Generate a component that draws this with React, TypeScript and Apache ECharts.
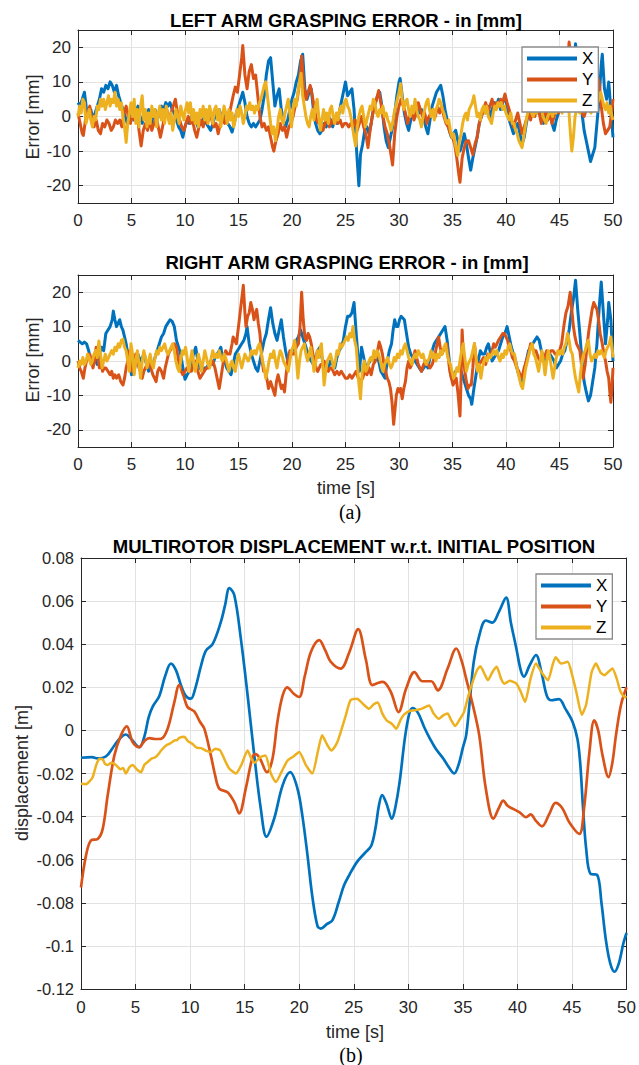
import React, { useEffect, useRef } from "react";
import * as echarts from "echarts";

const FONT = "'Liberation Sans', Arial, Helvetica, sans-serif";
const SERIF = "'Liberation Serif', 'Times New Roman', serif";
const C_X = "#0072BD";
const C_Y = "#D95319";
const C_Z = "#EDB120";

const seriesNames = ["X", "Y", "Z"];
const xTicks = { min: 0, max: 50, interval: 5 };

// LEFT ARM grasping error [mm]
const leftX: number[][] = [[0,4],[0.2,3],[0.4,5],[0.6,7],[0.8,2],[1.0,0],[1.2,2],[1.4,-1],[1.6,1],[1.8,3],[2.0,5],[2.2,8],[2.4,7],[2.6,9],[2.8,8],[3.0,10],[3.2,9],[3.4,7],[3.6,9],[3.8,6],[4.0,4],[4.2,2],[4.4,0],[4.6,-2],[4.8,0],[5.0,2],[5.2,-1],[5.4,1],[5.6,3],[5.8,0],[6.0,-2],[6.2,1],[6.4,-1],[6.6,2],[6.8,-3],[7.0,0],[7.2,2],[7.4,-1],[7.6,1],[7.8,3],[8.0,2],[8.2,4],[8.4,3],[8.6,4],[8.8,2],[9.0,1],[9.2,-1],[9.4,-3],[9.6,-4],[9.8,-6],[10.0,-3],[10.2,-1],[10.4,-2],[10.6,0],[10.8,-2],[11.0,-1],[11.2,-3],[11.4,-1],[11.6,-2],[11.8,0],[12.0,-2],[12.2,-3],[12.4,-4],[12.6,-2],[12.8,0],[13.0,1],[13.2,2],[13.4,0],[13.6,1],[13.8,-1],[14.0,-2],[14.2,-3],[14.4,-4.5],[14.6,-2],[14.8,1],[15.0,3],[15.2,5],[15.4,7],[15.6,4],[15.8,0],[16.0,-2],[16.2,-3],[16.4,-2],[16.6,-3],[16.8,-2],[17.0,-1],[17.2,2],[17.4,6],[17.6,12],[17.8,16],[18.0,17],[18.2,10],[18.4,3],[18.6,6],[18.8,8],[19.0,2],[19.2,-1],[19.4,-3],[19.6,-1],[19.8,2],[20.0,5],[20.2,7],[20.4,10],[20.6,12],[20.8,16],[21.0,18],[21.2,8],[21.4,5],[21.6,7],[21.8,8],[22.0,2],[22.2,-2],[22.4,-4],[22.6,-5],[22.8,-4],[23.0,-2],[23.2,-3],[23.4,0],[23.6,-1],[23.8,-3],[24.0,-1],[24.2,-2],[24.4,1],[24.6,4],[24.8,7],[25.0,10],[25.2,6],[25.4,7],[25.6,8],[25.8,2],[26.0,-8],[26.1,-13],[26.25,-20],[26.4,-11],[26.6,-8],[26.8,-4],[27.0,-3],[27.2,-5],[27.4,-2],[27.6,2],[27.8,4],[28.0,6],[28.2,7],[28.4,3],[28.6,-3],[28.8,-7],[29.0,-9],[29.2,-6],[29.4,-3],[29.6,1],[29.8,6],[30.0,10],[30.1,11],[30.3,6],[30.5,1],[30.7,-2],[30.9,-4],[31.1,-1],[31.3,2],[31.5,0],[31.7,3],[31.9,1],[32.1,2],[32.3,0],[32.5,-3],[32.7,-5],[32.9,-1],[33.1,3],[33.3,5],[33.5,7],[33.7,8],[33.9,9],[34.1,6],[34.3,2],[34.5,-1],[34.7,-4],[34.9,-6],[35.1,-5],[35.3,-4],[35.5,-7],[35.7,-10],[35.9,-8],[36.1,-5],[36.3,-8],[36.5,-12],[36.7,-15.5],[36.9,-12],[37.1,-9],[37.3,-6],[37.5,-2],[37.7,0],[37.9,2],[38.1,1],[38.3,3],[38.5,0],[38.7,2],[38.9,4],[39.1,3],[39.3,5],[39.5,2],[39.7,4],[39.9,6],[40.1,3],[40.3,-1],[40.5,-3],[40.7,-5],[40.9,-3],[41.1,-2],[41.3,-5],[41.5,-8],[41.7,-6],[41.9,-2],[42.1,1],[42.3,3],[42.5,0],[42.7,2],[42.9,1],[43.1,3],[43.3,0],[43.5,-2],[43.7,1],[43.9,-1],[44.1,2],[44.3,-2],[44.5,-4],[44.7,-1],[44.9,1],[45.1,2],[45.3,4],[45.5,3],[45.7,5],[45.9,4],[46.1,8],[46.3,15],[46.5,21],[46.7,12],[46.9,5],[47.1,1],[47.3,-4],[47.5,-7],[47.7,-10],[47.9,-13],[48.1,-11],[48.3,-9],[48.5,-2],[48.7,5],[48.9,15],[49.0,18],[49.2,8],[49.4,5],[49.6,10],[49.8,2],[50.0,-6]];
const leftY: number[][] = [[0,1],[0.2,-2],[0.4,-5],[0.5,-5.5],[0.7,-1],[0.9,1],[1.1,3],[1.3,-1],[1.5,-3],[1.7,-1],[1.9,-4],[2.1,-5],[2.3,-2],[2.5,-3],[2.7,-1],[2.9,-2],[3.1,-4],[3.3,-3],[3.5,-1],[3.7,-2],[3.9,-1],[4.1,-3],[4.3,1],[4.5,3],[4.7,0],[4.9,-2],[5.1,1],[5.3,-1],[5.5,2],[5.7,-4],[5.9,-8.5],[6.1,-4],[6.3,-2],[6.5,-4],[6.7,-1],[6.9,-4],[7.1,-2],[7.3,0],[7.5,-3],[7.7,-6],[7.9,-3],[8.1,0],[8.3,2],[8.5,-1],[8.7,1],[8.9,3],[9.1,5],[9.3,1],[9.5,-1],[9.7,-3],[9.9,-4],[10.1,-2],[10.3,0],[10.5,-2],[10.7,-1],[10.9,-4],[11.1,-6],[11.3,-3],[11.5,-1],[11.7,-3],[11.9,0],[12.1,-2],[12.3,1],[12.5,-1],[12.7,-3],[12.9,-2],[13.1,-5],[13.3,-2],[13.5,0],[13.7,-2],[13.9,1],[14.1,0],[14.3,3],[14.5,6],[14.7,8.5],[14.9,7],[15.1,12],[15.3,17],[15.4,20.5],[15.6,12],[15.8,8],[16.0,13],[16.2,15],[16.4,11],[16.6,12],[16.8,6],[17.0,0],[17.2,-3],[17.4,-2],[17.6,-4],[17.8,-3],[18.0,-6],[18.2,-9],[18.3,-10],[18.5,-7],[18.7,-5],[18.9,-2],[19.1,-4],[19.3,-3],[19.5,-6],[19.7,-3],[19.9,-2],[20.1,0],[20.3,3],[20.5,5],[20.7,10],[20.9,17.5],[21.1,9],[21.3,5],[21.5,7],[21.7,9],[21.9,6],[22.1,2],[22.3,-1],[22.5,-2],[22.7,-1],[22.9,-4],[23.1,-2],[23.3,0],[23.5,-3],[23.7,-1],[23.9,-2],[24.1,0],[24.3,-2],[24.5,-1],[24.7,-3],[24.9,-2],[25.1,-2],[25.3,-3],[25.5,-2],[25.7,-3],[25.9,-1],[26.1,-4],[26.3,-2],[26.5,0],[26.7,-3],[26.9,-5],[27.1,-9],[27.3,-4],[27.5,0],[27.7,3],[27.9,5],[28.1,7.5],[28.3,4],[28.5,0],[28.7,-3],[28.9,-5],[29.1,-8],[29.3,-12],[29.4,-14],[29.6,-5],[29.8,0],[30.0,3],[30.2,5],[30.4,3],[30.6,1],[30.8,-2],[31.0,0],[31.2,2],[31.4,-1],[31.6,1],[31.8,4],[32.0,2],[32.2,0],[32.4,1],[32.6,-2],[32.8,0],[33.0,1],[33.2,2],[33.4,0],[33.6,3],[33.8,1],[34.0,3],[34.2,0],[34.4,-2],[34.6,-3],[34.8,-5],[35.0,-6],[35.2,-8],[35.4,-12],[35.6,-17],[35.7,-19],[35.9,-12],[36.1,-9],[36.3,-7],[36.5,-7],[36.7,-9],[36.9,-11],[37.1,-8],[37.3,-6],[37.5,-2],[37.7,0],[37.9,2],[38.1,4],[38.3,1],[38.5,3],[38.7,5],[38.9,2],[39.1,4],[39.3,3],[39.5,5],[39.7,4],[39.9,6.5],[40.1,4],[40.3,2],[40.5,-1],[40.7,-3],[40.9,-1],[41.1,1],[41.3,-2],[41.5,-5],[41.7,-3],[41.9,-1],[42.1,1],[42.3,-1],[42.5,2],[42.7,0],[42.9,3],[43.1,1],[43.3,-2],[43.5,0],[43.7,2],[43.9,-1],[44.1,1],[44.3,-2],[44.5,0],[44.7,2],[44.9,1],[45.1,3],[45.3,5],[45.5,8],[45.7,14],[45.9,21.5],[46.1,16],[46.3,10],[46.5,7],[46.7,5],[46.9,3],[47.1,1],[47.3,0],[47.5,2],[47.7,3],[47.9,6],[48.1,11],[48.3,15],[48.5,12],[48.7,10],[48.9,3],[49.1,-2],[49.3,-5],[49.5,-4],[49.7,-3],[49.9,2],[50.0,5]];
const leftZ: number[][] = [[0,0],[0.15,3],[0.3,1],[0.45,5],[0.6,4],[0.75,-2],[0.9,0],[1.05,2],[1.2,-1],[1.35,-3],[1.5,0],[1.65,-1],[1.8,3],[1.95,2],[2.1,5],[2.25,3],[2.4,5],[2.55,2],[2.7,4],[2.85,6],[3.0,3],[3.15,5],[3.3,4],[3.45,7],[3.6,3],[3.75,5],[3.9,2],[4.05,4],[4.2,0],[4.35,-3],[4.5,-7.5],[4.65,-2],[4.8,1],[4.95,4],[5.1,0],[5.25,5],[5.4,-2],[5.55,2],[5.7,-3],[5.85,3],[6.0,6],[6.15,-1],[6.3,2],[6.45,-3],[6.6,1],[6.75,-2],[6.9,3],[7.05,0],[7.2,2],[7.35,-3],[7.5,1],[7.65,3],[7.8,-1],[7.95,2],[8.1,-2],[8.25,3],[8.4,0],[8.55,-2],[8.7,1],[8.85,-4],[9.0,-1],[9.15,2],[9.3,0],[9.45,-2],[9.6,3],[9.75,1],[9.9,-1],[10.05,2],[10.2,4],[10.35,1],[10.5,4],[10.65,-1],[10.8,2],[10.95,-2],[11.1,1],[11.25,-3],[11.4,2],[11.55,0],[11.7,3],[11.85,-1],[12.0,2],[12.15,-2],[12.3,3],[12.45,1],[12.6,-2],[12.75,2],[12.9,3],[13.05,-1],[13.2,2],[13.35,-3],[13.5,0],[13.65,3],[13.8,1],[13.95,-2],[14.1,2],[14.25,-1],[14.4,1],[14.55,-3],[14.7,-1],[14.85,2],[15.0,0],[15.15,3],[15.3,1],[15.45,-2],[15.6,0],[15.75,3],[15.9,2],[16.05,4],[16.2,2],[16.35,3],[16.5,1],[16.65,3],[16.8,2],[16.95,4],[17.1,5],[17.25,7],[17.4,9],[17.55,10],[17.7,6],[17.85,2],[18.0,-2],[18.15,-5],[18.3,-3],[18.45,-7],[18.6,-4],[18.75,0],[18.9,2],[19.05,-1],[19.2,-2],[19.35,1],[19.5,3],[19.65,5],[19.8,1],[19.95,-3],[20.1,2],[20.25,5],[20.4,3],[20.55,7],[20.7,10],[20.85,12.5],[21.0,6],[21.15,3],[21.3,0],[21.45,-2],[21.6,-3],[21.75,0],[21.9,2],[22.05,-1],[22.2,3],[22.35,5],[22.5,0],[22.65,-4],[22.8,-1],[22.95,2],[23.1,-1],[23.25,1],[23.4,-2],[23.55,2],[23.7,3],[23.85,0],[24.0,-2],[24.15,1],[24.3,-1],[24.45,2],[24.6,3],[24.75,1],[24.9,4],[25.05,5],[25.2,3],[25.35,2],[25.5,0],[25.65,-3],[25.8,-6],[25.95,-8.5],[26.1,-3],[26.25,0],[26.4,2],[26.55,3],[26.7,0],[26.85,-3],[27.0,-1],[27.15,1],[27.3,3],[27.45,2],[27.6,5],[27.75,4],[27.9,1],[28.05,0],[28.2,2],[28.35,1],[28.5,3],[28.65,0],[28.8,1],[28.95,-1],[29.1,-2],[29.25,-4],[29.4,-2],[29.55,1],[29.7,3],[29.85,5],[30.0,7],[30.15,9.5],[30.3,5],[30.45,2],[30.6,4],[30.75,5],[30.9,2],[31.05,0],[31.2,3],[31.35,1],[31.5,5],[31.65,2],[31.8,0],[31.95,-1],[32.1,-3],[32.25,0],[32.4,2],[32.55,4],[32.7,5],[32.85,2],[33.0,0],[33.15,2],[33.3,-1],[33.45,2],[33.6,3],[33.75,5],[33.9,4],[34.05,2],[34.2,1],[34.35,-1],[34.5,-2],[34.65,-1],[34.8,-4],[34.95,-6],[35.1,-5],[35.25,-8],[35.4,-10],[35.5,-11.3],[35.65,-7],[35.8,-5],[35.95,-2],[36.1,0],[36.25,1],[36.4,-1],[36.55,2],[36.7,3],[36.85,4],[37.0,6],[37.15,3],[37.3,0],[37.45,1],[37.6,-1],[37.75,2],[37.9,3],[38.05,1],[38.2,3],[38.35,0],[38.5,-1],[38.65,-2],[38.8,1],[38.95,3],[39.1,2],[39.25,4],[39.4,3],[39.55,4],[39.7,2],[39.85,3],[40.0,1],[40.15,0],[40.3,-1],[40.45,1],[40.6,-2],[40.75,-2],[40.9,-4],[41.05,-5],[41.2,-7],[41.35,-8],[41.5,-9],[41.65,-6],[41.8,-3],[41.95,0],[42.1,2],[42.25,3],[42.4,1],[42.55,0],[42.7,2],[42.85,1],[43.0,3],[43.15,2],[43.3,3],[43.45,0],[43.6,-1],[43.75,-2],[43.9,0],[44.05,1],[44.2,2],[44.35,0],[44.5,2],[44.65,1],[44.8,3],[44.95,2],[45.1,3],[45.25,1],[45.4,3],[45.55,4],[45.7,5],[45.85,3],[46.0,-4],[46.15,-10],[46.3,-6],[46.45,0],[46.6,2],[46.75,3],[46.9,1],[47.05,3],[47.2,5],[47.35,4],[47.5,5],[47.65,3],[47.8,2],[47.95,1],[48.1,3],[48.25,2],[48.4,3],[48.55,4],[48.7,5],[48.85,7],[49.0,5],[49.15,3],[49.3,2],[49.45,4],[49.6,1],[49.75,3],[49.9,0],[50.0,-1]];

// RIGHT ARM grasping error [mm]
const rightX: number[][] = [[0,6],[0.2,5.5],[0.4,5],[0.6,5.5],[0.8,5],[1.0,3],[1.2,0],[1.4,-1],[1.6,1],[1.8,-1],[2.0,2],[2.2,4],[2.4,3],[2.6,8],[2.8,9],[3.0,10],[3.2,12],[3.3,14.5],[3.45,12],[3.6,10],[3.75,11],[3.9,12],[4.05,10],[4.2,9],[4.35,7],[4.5,5],[4.65,2],[4.8,0],[5.0,-4],[5.15,-3],[5.3,-2],[5.45,0],[5.6,2],[5.8,0],[6.0,1],[6.2,2],[6.4,-1],[6.6,-3],[6.8,-1],[7.0,-1],[7.2,1],[7.4,3],[7.6,5],[7.8,7],[8.0,8],[8.2,10],[8.4,11],[8.6,12],[8.8,11.5],[9.0,10],[9.2,6],[9.4,4],[9.6,2],[9.8,-2],[10.0,-5.3],[10.2,-4],[10.4,-3],[10.6,0],[10.8,2],[11.0,4],[11.2,0],[11.4,-2],[11.6,-3],[11.8,-2],[12.0,-2],[12.2,-1],[12.4,0],[12.6,-1],[12.8,1],[13.0,2],[13.2,3],[13.35,4],[13.5,1],[13.7,0],[13.9,-2],[14.1,-3],[14.3,-4],[14.5,-1],[14.7,2],[14.9,3],[15.1,4],[15.3,5],[15.5,6],[15.7,8],[15.8,10],[16.0,5],[16.2,2],[16.4,0],[16.6,-2],[16.8,-3],[17.0,0],[17.2,3],[17.4,6],[17.6,8],[17.8,12],[18.0,15.5],[18.2,11],[18.4,8],[18.6,6],[18.8,9],[19.0,12],[19.2,7],[19.4,3],[19.6,0],[19.8,1],[20.0,3],[20.2,4],[20.4,6],[20.6,7],[20.8,9],[21.0,7],[21.2,5],[21.4,3],[21.6,1],[21.8,0],[22.0,-1],[22.2,1],[22.4,3],[22.6,4],[22.8,1],[23.0,-2],[23.2,-3],[23.4,-2],[23.6,0],[23.8,-1],[24.0,-2],[24.2,1],[24.4,3],[24.6,4],[24.8,6],[25.0,10],[25.2,13],[25.4,13],[25.6,14],[25.8,17],[26.0,8],[26.15,2],[26.3,-3],[26.5,4],[26.7,1],[26.9,-2],[27.1,-1],[27.3,0],[27.5,1],[27.7,0],[27.9,2],[28.1,0],[28.3,-3],[28.5,-4],[28.7,-5],[28.9,0],[29.1,3],[29.3,5],[29.45,9],[29.6,12],[29.75,10],[29.9,10],[30.05,12],[30.2,13],[30.35,12.5],[30.5,12],[30.7,8],[30.9,4],[31.1,2],[31.3,1],[31.5,0],[31.7,-1],[31.9,-2],[32.1,-3],[32.3,-2],[32.5,-1],[32.7,-2],[32.9,1],[33.1,3],[33.3,5],[33.5,6],[33.7,7],[33.9,8],[34.1,9],[34.3,10],[34.5,6],[34.7,0],[34.9,-5],[35.1,-4],[35.3,-3],[35.5,-2],[35.7,-2],[35.9,-4],[36.1,-6],[36.3,-8],[36.5,-10],[36.7,-11],[36.8,-12.6],[37.0,-8],[37.2,-4],[37.4,0],[37.6,3],[37.8,2],[38.0,2],[38.2,4],[38.35,5],[38.5,3],[38.7,0],[38.9,1],[39.1,2],[39.3,3],[39.5,5],[39.7,7],[39.9,8],[40.1,10],[40.3,7],[40.5,4],[40.7,2],[40.9,0],[41.1,-3],[41.3,-5],[41.5,-7],[41.7,-3],[41.9,0],[42.1,3],[42.3,4],[42.5,5],[42.7,6],[42.9,7],[43.1,6],[43.3,3],[43.5,1],[43.7,0],[43.9,1],[44.1,2],[44.3,1],[44.5,0],[44.7,-2],[44.9,-1],[45.1,0],[45.3,2],[45.5,3],[45.7,6],[45.9,9],[46.1,14],[46.3,18],[46.5,23.5],[46.7,15],[46.9,8],[47.1,0],[47.3,-6],[47.5,-9],[47.7,-11.6],[47.9,-10],[48.1,-6],[48.3,-2],[48.5,5],[48.7,15],[48.9,23],[49.1,14],[49.3,5],[49.5,12],[49.6,17],[49.8,12],[50.0,0]];
const rightY: number[][] = [[0,0],[0.15,-2],[0.3,-3],[0.5,-5],[0.65,-2],[0.8,0],[1.0,1],[1.1,2],[1.25,0],[1.4,-2],[1.55,0],[1.7,4],[1.85,1],[2.0,-2],[2.15,-1],[2.3,-3],[2.45,-2],[2.6,-2],[2.8,-3],[3.0,-4],[3.15,-3],[3.3,-5],[3.45,-4],[3.6,-5],[3.8,-4],[4.0,-6],[4.2,-7],[4.35,-5],[4.5,-2],[4.65,0],[4.8,3],[4.95,-1],[5.1,-3],[5.25,0],[5.4,2],[5.55,0],[5.7,-2],[5.85,-3],[6.0,-5],[6.15,-3],[6.3,-2],[6.45,-1],[6.6,0],[6.8,-2],[7.0,-4],[7.15,-5],[7.3,-6],[7.45,-3],[7.6,-2],[7.8,-3],[8.0,-5],[8.15,-2],[8.3,0],[8.45,2],[8.6,3],[8.8,4],[9.0,5],[9.2,4],[9.35,1],[9.5,-2],[9.65,-3],[9.8,-4],[10.0,-3],[10.2,-2],[10.4,-3],[10.6,-3],[10.8,-1],[11.0,0],[11.2,-3],[11.4,-5],[11.6,-4],[11.8,-3],[12.0,-2],[12.2,-2],[12.4,-1],[12.6,0],[12.8,-2],[13.0,-5],[13.2,-8],[13.35,-5],[13.5,-2],[13.65,1],[13.8,3],[14.0,2],[14.2,2],[14.4,5],[14.5,7],[14.65,6],[14.8,5],[15.0,10],[15.15,14],[15.3,18],[15.45,22],[15.6,14],[15.7,10],[15.85,13],[16.0,14],[16.15,17],[16.3,15],[16.45,12],[16.6,14],[16.7,15],[16.85,11],[17.0,8],[17.2,0],[17.35,-3],[17.5,-3],[17.7,-6],[17.8,-8],[18.0,-6],[18.2,-8],[18.4,-10],[18.55,-6],[18.7,-4],[18.85,-6],[19.0,-8],[19.15,-7],[19.3,-9],[19.45,-4],[19.6,0],[19.8,3],[20.0,2],[20.2,2],[20.4,4],[20.6,5],[20.75,10],[20.9,20],[21.05,12],[21.2,7],[21.35,6],[21.5,8],[21.65,7],[21.8,5],[21.95,2],[22.1,0],[22.25,-2],[22.4,-3],[22.55,-2],[22.7,-1],[22.85,-1],[23.0,0],[23.2,-2],[23.4,-3],[23.55,-2],[23.7,-2],[23.85,-3],[24.0,-4],[24.2,-3],[24.4,-4],[24.6,-3],[24.8,-4],[25.0,-5],[25.2,-5],[25.4,-4],[25.6,-5],[25.8,-4],[26.0,-3],[26.2,-5],[26.4,-6],[26.6,-5],[26.8,-3],[27.0,-4],[27.2,-2],[27.4,-4],[27.6,-1],[27.8,0],[28.0,3],[28.15,5.5],[28.3,4],[28.45,2],[28.6,-1],[28.75,-3],[28.9,-5],[29.05,-6],[29.2,-8],[29.35,-12],[29.5,-18.4],[29.6,-15],[29.75,-10],[29.9,-8],[30.05,-9],[30.15,-8],[30.3,-11],[30.45,-8],[30.6,-6],[30.75,-2],[30.9,0],[31.05,-2],[31.2,-1],[31.35,1],[31.5,3],[31.65,1],[31.8,-1],[31.95,-2],[32.1,-3],[32.3,-1],[32.5,0],[32.7,-1],[32.9,-2],[33.1,-1],[33.3,1],[33.5,4],[33.7,7],[33.85,4],[34.0,2],[34.15,3],[34.3,4],[34.45,5],[34.6,1],[34.75,-3],[34.9,-5],[35.05,-7],[35.2,-6],[35.35,-5],[35.5,-9],[35.7,-16],[35.8,-5],[35.9,9],[36.0,3],[36.15,-3],[36.3,-6],[36.45,-8],[36.6,-7],[36.75,-7],[36.9,-2],[37.05,5],[37.2,1],[37.35,-2],[37.5,-1],[37.7,0],[37.9,1],[38.1,-1],[38.3,2],[38.5,1],[38.7,3],[38.85,5],[39.0,4],[39.15,5],[39.3,6],[39.5,7],[39.7,8],[39.85,8],[40.0,7],[40.15,6],[40.3,4],[40.45,3],[40.6,1],[40.8,0],[41.0,-2],[41.2,-3],[41.4,-5],[41.55,-4],[41.7,-2],[41.9,0],[42.1,2],[42.3,5],[42.45,4],[42.6,3],[42.8,3],[43.0,1],[43.2,0],[43.4,2],[43.6,1],[43.8,3],[44.0,2],[44.2,3],[44.4,3],[44.6,2],[44.8,2],[45.0,3],[45.2,5],[45.4,10],[45.6,14],[45.8,16],[46.0,20],[46.15,15],[46.3,10],[46.45,7],[46.6,5],[46.75,4],[46.9,3],[47.05,-1],[47.2,-5],[47.4,-1],[47.6,5],[47.75,9],[47.9,12],[48.05,15],[48.2,17],[48.35,16],[48.5,15],[48.65,12],[48.8,8],[49.0,5],[49.15,2],[49.3,0],[49.45,-3],[49.6,-5],[49.7,-9],[49.8,-12],[49.9,-8],[50.0,-2]];
const rightZ: number[][] = [[0,-2],[0.15,0],[0.3,-1],[0.45,1],[0.6,-1],[0.75,0],[0.9,2],[1.05,1],[1.2,-1],[1.35,0],[1.5,2],[1.65,3],[1.8,1],[1.95,5.8],[2.1,2],[2.25,-2],[2.4,0],[2.55,2],[2.7,0],[2.85,1],[3.0,2],[3.15,3],[3.3,2],[3.45,4],[3.6,3],[3.75,5],[3.9,4],[4.05,6],[4.2,6.3],[4.35,4],[4.5,3],[4.65,0],[4.8,-3],[4.95,5],[5.1,2],[5.25,-4],[5.4,0],[5.55,3],[5.7,-1],[5.85,-5],[6.0,0],[6.15,3],[6.3,1],[6.45,-2],[6.6,0],[6.75,2],[6.9,-1],[7.05,-2],[7.2,1],[7.35,3],[7.5,2],[7.65,4],[7.8,3],[7.95,4],[8.1,5],[8.25,3],[8.4,2],[8.55,3],[8.7,4],[8.85,5],[9.0,3],[9.15,0],[9.3,-2],[9.45,-3],[9.6,0],[9.75,3],[9.9,2],[10.05,4],[10.2,1],[10.35,-3],[10.5,0],[10.65,3],[10.8,0],[10.95,-3],[11.1,-1],[11.25,2],[11.4,0],[11.55,-3],[11.7,0],[11.85,3],[12.0,1],[12.15,-1],[12.3,-2],[12.45,1],[12.6,3],[12.75,1],[12.9,2],[13.05,1],[13.2,3],[13.35,1],[13.5,0],[13.65,2],[13.8,1],[13.95,-1],[14.1,-3],[14.25,-1],[14.4,0],[14.55,-2],[14.7,-3],[14.85,0],[15.0,2],[15.15,0],[15.3,-2],[15.45,0],[15.6,2],[15.75,1],[15.9,0],[16.05,1],[16.2,3],[16.35,2],[16.5,3],[16.65,2],[16.8,4],[16.95,5],[17.1,3],[17.25,0],[17.4,-2],[17.55,-5],[17.7,-3],[17.85,0],[18.0,2],[18.15,1],[18.3,3],[18.45,0],[18.6,-2],[18.75,1],[18.9,3],[19.05,2],[19.2,0],[19.35,-1],[19.5,-2],[19.65,-3],[19.8,0],[19.95,3],[20.1,4],[20.25,6],[20.4,1],[20.55,-5],[20.7,0],[20.85,3],[21.0,4],[21.15,5],[21.3,2],[21.45,0],[21.6,2],[21.75,4],[21.9,1],[22.05,-3],[22.2,-1],[22.35,3],[22.5,1],[22.65,4],[22.75,5],[22.9,-2],[23.0,-7],[23.15,-3],[23.3,0],[23.45,1],[23.6,2],[23.75,0],[23.9,-2],[24.05,0],[24.2,3],[24.35,2],[24.5,5],[24.65,4],[24.8,5],[24.95,6],[25.1,7],[25.25,6],[25.4,8],[25.55,7],[25.7,10],[25.85,6],[26.0,4],[26.1,0],[26.2,-5],[26.3,-8],[26.4,-11],[26.5,-6],[26.6,-2],[26.75,0],[26.9,-3],[27.05,-2],[27.2,0],[27.35,1],[27.5,0],[27.65,3],[27.8,1],[27.95,3],[28.1,2],[28.25,0],[28.4,-2],[28.5,-3],[28.65,-1],[28.8,0],[28.95,1],[29.1,-1],[29.25,-2],[29.4,-1],[29.55,1],[29.7,0],[29.85,2],[30.0,1],[30.15,3],[30.3,2],[30.45,4],[30.6,5],[30.75,3],[30.9,1],[31.05,0],[31.2,-1],[31.35,1],[31.5,2],[31.65,1],[31.8,3],[31.95,2],[32.1,1],[32.25,2],[32.4,0],[32.55,-1],[32.7,0],[32.85,1],[33.0,3],[33.15,1],[33.3,2],[33.45,0],[33.6,2],[33.75,1],[33.9,3],[34.05,2],[34.2,4],[34.35,5],[34.5,2],[34.65,0],[34.8,-1],[34.95,-3],[35.1,-5],[35.25,-4],[35.4,-2],[35.55,-3],[35.7,0],[35.85,3],[36.0,5],[36.15,1],[36.3,-3],[36.45,-1],[36.6,0],[36.75,1],[36.9,3],[37.05,5],[37.2,1],[37.35,-3],[37.5,-1],[37.65,-5],[37.8,-2],[37.95,0],[38.1,1],[38.25,0],[38.4,2],[38.55,1],[38.7,2],[38.85,3],[39.0,2],[39.15,3],[39.3,1],[39.45,0],[39.6,2],[39.75,1],[39.9,3],[40.05,2],[40.2,4],[40.35,5],[40.5,3],[40.65,2],[40.8,2],[40.95,-1],[41.1,-3],[41.25,-5],[41.4,-7],[41.55,-8],[41.7,-5],[41.85,-2],[42.0,0],[42.15,2],[42.3,4],[42.45,5],[42.6,2],[42.75,1],[42.9,-1],[43.05,-3],[43.2,0],[43.35,3],[43.5,0],[43.65,-4],[43.8,0],[43.95,3],[44.1,1],[44.25,-2],[44.4,-5],[44.55,-2],[44.7,1],[44.85,3],[45.0,2],[45.15,3],[45.3,2],[45.45,4],[45.6,5],[45.75,8],[45.9,6],[46.05,3],[46.2,2],[46.35,-2],[46.5,-5],[46.65,-7],[46.8,-9],[46.95,-4],[47.1,0],[47.25,2],[47.4,3],[47.55,5],[47.7,6],[47.85,2],[48.0,0],[48.15,1],[48.3,2],[48.45,1],[48.6,3],[48.75,2],[48.9,3],[49.05,2],[49.2,1],[49.35,3],[49.5,4],[49.65,5],[49.8,7],[49.9,4],[50.0,1]];

// MULTIROTOR displacement [m]
const dispX: number[][] = [[0,-0.0127],[1.0,-0.0124],[1.5,-0.013],[2.3,-0.012],[3.06,-0.007],[3.6,-0.0035],[4.1,-0.0019],[4.6,-0.004],[5.35,-0.0078],[5.8,-0.003],[6.2,0.006],[6.57,0.011],[7.18,0.016],[7.7,0.025],[8.24,0.031],[8.7,0.028],[9.16,0.021],[9.6,0.016],[10.07,0.0147],[10.5,0.02],[11.0,0.03],[11.45,0.037],[12.06,0.040],[12.8,0.050],[13.2,0.058],[13.6,0.066],[14.05,0.0628],[14.65,0.0426],[15.27,0.0163],[15.88,-0.0116],[16.48,-0.0364],[17.0,-0.0493],[17.7,-0.041],[18.47,-0.0256],[19.17,-0.0194],[19.84,-0.027],[20.3,-0.04],[20.76,-0.058],[21.2,-0.077],[21.67,-0.0907],[21.98,-0.092],[22.5,-0.09],[23.05,-0.088],[23.6,-0.08],[24.1,-0.072],[24.6,-0.067],[25.3,-0.061],[26.0,-0.057],[26.6,-0.0535],[27.0,-0.045],[27.3,-0.035],[27.6,-0.030],[28.0,-0.034],[28.5,-0.041],[28.8,-0.036],[29.2,-0.024],[29.7,-0.003],[30.1,0.008],[30.4,0.0104],[30.9,0.008],[31.5,0.001],[32.0,-0.004],[32.5,-0.0084],[33.2,-0.013],[33.7,-0.017],[34.2,-0.020],[34.6,-0.016],[35.0,-0.008],[35.3,-0.0023],[35.6,0.012],[36.0,0.032],[36.5,0.044],[37.1,0.051],[37.7,0.050],[38.3,0.055],[38.96,0.0616],[39.4,0.05],[39.9,0.038],[40.3,0.028],[40.6,0.025],[41.1,0.030],[41.7,0.035],[42.2,0.027],[42.7,0.016],[43.1,0.014],[43.8,0.0145],[44.4,0.01],[45.05,0.004],[45.5,-0.004],[45.75,-0.015],[46.0,-0.035],[46.3,-0.055],[46.7,-0.0666],[47.3,-0.067],[47.7,-0.08],[48.1,-0.097],[48.5,-0.108],[48.9,-0.112],[49.3,-0.108],[49.7,-0.099],[50,-0.094]];
const dispY: number[][] = [[0,-0.0729],[0.46,-0.058],[0.92,-0.051],[1.53,-0.0504],[1.99,-0.0457],[2.45,-0.030],[3.06,-0.0116],[3.66,-0.0023],[4.2,0.0019],[4.73,-0.0054],[5.35,-0.0078],[5.8,-0.005],[6.26,-0.0036],[6.8,-0.004],[7.33,-0.0039],[7.94,0.0008],[8.55,0.013],[9.0,0.021],[9.4,0.016],[9.77,0.0108],[10.38,0.0088],[10.9,0.004],[11.3,0.0008],[11.9,-0.0116],[12.3,-0.021],[12.67,-0.027],[13.43,-0.0287],[14.05,-0.0333],[14.5,-0.0385],[15.1,-0.027],[15.72,-0.0124],[16.0,-0.011],[16.4,-0.013],[17.04,-0.0194],[17.55,-0.0132],[18.0,0.0039],[18.47,0.016],[18.9,0.020],[19.5,0.017],[20.0,0.0155],[20.5,0.025],[21.07,0.0364],[21.83,0.0419],[22.4,0.037],[22.9,0.0318],[23.8,0.0287],[24.6,0.0364],[25.4,0.047],[26.1,0.033],[26.7,0.021],[27.2,0.022],[27.66,0.0225],[28.4,0.0178],[29.1,0.0085],[29.8,0.0194],[30.56,0.027],[31.3,0.0228],[32.1,0.0228],[32.7,0.0186],[33.6,0.0287],[34.4,0.038],[34.9,0.032],[35.3,0.024],[35.9,0.012],[36.5,-0.0023],[37.1,-0.027],[37.8,-0.041],[38.3,-0.036],[38.7,-0.0326],[39.1,-0.035],[39.6,-0.0364],[40.2,-0.038],[40.8,-0.0403],[41.2,-0.039],[41.7,-0.042],[42.25,-0.0445],[42.9,-0.039],[43.5,-0.0336],[44.1,-0.036],[44.75,-0.0426],[45.67,-0.048],[46.1,-0.0364],[46.6,-0.01],[47.04,0.0047],[47.4,0.0],[47.8,-0.0116],[48.35,-0.0217],[48.7,-0.015],[49.03,-0.0023],[49.5,0.012],[50,0.020]];
const dispZ: number[][] = [[0,-0.0248],[0.46,-0.025],[0.8,-0.0235],[1.07,-0.0217],[1.4,-0.016],[1.68,-0.0132],[2.0,-0.0135],[2.2,-0.0155],[2.45,-0.016],[2.8,-0.015],[3.2,-0.016],[3.6,-0.018],[3.85,-0.0175],[4.1,-0.020],[4.45,-0.017],[4.73,-0.016],[5.1,-0.018],[5.5,-0.0194],[5.8,-0.016],[6.1,-0.0147],[6.5,-0.013],[6.8,-0.0125],[7.0,-0.0116],[7.4,-0.009],[7.8,-0.007],[8.2,-0.006],[8.55,-0.0047],[8.8,-0.0045],[9.0,-0.0035],[9.47,-0.003],[9.8,-0.005],[10.2,-0.0062],[10.6,-0.008],[11.0,-0.0082],[11.5,-0.0095],[11.9,-0.010],[12.3,-0.0085],[12.76,-0.0093],[13.2,-0.014],[13.6,-0.0178],[14.2,-0.020],[14.7,-0.016],[15.27,-0.0093],[15.6,-0.013],[15.9,-0.015],[16.4,-0.0125],[16.9,-0.0116],[17.4,-0.02],[17.86,-0.024],[18.4,-0.019],[18.93,-0.014],[19.5,-0.012],[20.0,-0.010],[20.6,-0.016],[21.2,-0.020],[21.7,-0.01],[22.1,-0.0023],[22.6,-0.007],[22.96,-0.0093],[23.5,-0.0054],[24.27,0.007],[24.7,0.014],[25.3,0.0147],[25.9,0.012],[26.4,0.010],[26.8,0.012],[27.2,0.013],[27.6,0.008],[28.0,0.0047],[28.5,0.003],[28.9,0.0008],[29.3,0.005],[29.6,0.0073],[30.1,0.009],[30.56,0.0093],[31.2,0.010],[31.9,0.0116],[32.3,0.008],[32.8,0.0054],[33.2,0.007],[33.6,0.0078],[33.9,0.005],[34.3,0.002],[34.7,0.005],[35.1,0.0085],[35.5,0.016],[35.9,0.0225],[36.3,0.028],[36.6,0.0298],[37.0,0.026],[37.3,0.0233],[37.7,0.027],[38.1,0.0295],[38.5,0.024],[38.8,0.0217],[39.3,0.023],[39.9,0.0217],[40.3,0.018],[40.7,0.0132],[41.2,0.024],[41.7,0.031],[42.2,0.027],[42.8,0.0233],[43.2,0.03],[43.5,0.034],[44.0,0.031],[44.6,0.0318],[45.0,0.026],[45.4,0.0178],[45.9,0.0073],[46.3,0.012],[46.8,0.027],[47.2,0.031],[47.6,0.027],[47.96,0.0256],[48.3,0.027],[48.7,0.0287],[49.1,0.024],[49.4,0.0186],[49.7,0.016],[50,0.0152]];

const AX = "#262626";
const GRIDC = "#e2e2e2";

function xAxes(gridIndex: number, fontSize: number, margin: number) {
  const base = {
    type: "value", gridIndex, min: xTicks.min, max: xTicks.max, interval: xTicks.interval,
    axisLine: { show: true, onZero: false, lineStyle: { color: AX, width: 1 } },
    axisTick: { show: true, inside: true, length: 5, lineStyle: { color: AX } },
  };
  return [
    { ...base, position: "bottom",
      axisLabel: { show: true, color: AX, fontSize, fontFamily: FONT, margin },
      splitLine: { show: true, lineStyle: { color: GRIDC, width: 1 } } },
    { ...base, position: "top", axisLabel: { show: false }, splitLine: { show: false } },
  ];
}

function yAxes(gridIndex: number, min: number, max: number, extra: any, fontSize: number, fmt?: (v: number) => string) {
  const { hideEnds, ...rest } = extra;
  const base = {
    type: "value", gridIndex, min, max, ...rest,
    axisLine: { show: true, onZero: false, lineStyle: { color: AX, width: 1 } },
    axisTick: { show: true, inside: true, length: 5, lineStyle: { color: AX } },
  };
  return [
    { ...base, position: "left",
      axisLabel: { show: true, color: AX, fontSize, fontFamily: FONT, margin: 7,
        showMinLabel: !hideEnds, showMaxLabel: !hideEnds, formatter: fmt },
      splitLine: { show: true, lineStyle: { color: GRIDC, width: 1 } } },
    { ...base, position: "right", axisLabel: { show: false }, splitLine: { show: false } },
  ];
}

function lineSeries(name: string, data: number[][], color: string, idx: number, width: number, smooth: any) {
  return {
    type: "line", name, data, xAxisIndex: idx * 2, yAxisIndex: idx * 2,
    showSymbol: false, symbol: "none", smooth, color,
    lineStyle: { color, width, join: "round" }, z: 3,
  };
}

function legendAt(left: number, top: number) {
  return {
    data: seriesNames, orient: "vertical", left, top,
    backgroundColor: "#ffffff", borderColor: "#8a8a8a", borderWidth: 1.3,
    padding: [3, 5, 3, 5], itemGap: 4, itemWidth: 50, itemHeight: 4, icon: "rect",
    textStyle: { fontSize: 17, fontFamily: FONT, color: "#000", lineHeight: 16 },
    selectedMode: false,
  };
}

function txt(text: string, x: number, y: number, size: number, opts: any = {}) {
  return {
    type: "text", x, y, rotation: opts.rotation || 0, z: 10,
    style: { text, x: 0, y: 0, fill: opts.fill || "#000", fontSize: size,
      fontFamily: opts.family || FONT, fontWeight: opts.bold ? "bold" : "normal",
      textAlign: "center", textVerticalAlign: "middle" },
  };
}

export default function App() {
  const ref = useRef<HTMLDivElement>(null);
  useEffect(() => {
    document.body.style.margin = "0";
    if (!ref.current) return;
    const chart = echarts.init(ref.current, null, { renderer: "svg" });
    const fmt = (v: number) => String(+v.toFixed(4));
    const option: any = {
      animation: false,
      backgroundColor: "#ffffff",
      grid: [
        { left: 78, top: 30, width: 535, height: 173, show: false },
        { left: 78, top: 275, width: 535, height: 172, show: false },
        { left: 81, top: 558, width: 546, height: 431, show: false },
      ],
      xAxis: [...xAxes(0, 17, 9), ...xAxes(1, 17, 9), ...xAxes(2, 17, 10)],
      yAxis: [
        ...yAxes(0, -25, 25, { splitNumber: 5, hideEnds: true }, 17),
        ...yAxes(1, -25, 25, { splitNumber: 5, hideEnds: true }, 17),
        ...yAxes(2, -0.12, 0.08, { interval: 0.02 }, 16.5, fmt),
      ],
      legend: [legendAt(522, 47), legendAt(536, 574)],
      series: [
        lineSeries("X", leftX, C_X, 0, 3, false),
        lineSeries("Y", leftY, C_Y, 0, 3, false),
        lineSeries("Z", leftZ, C_Z, 0, 3, false),
        lineSeries("X", rightX, C_X, 1, 3, false),
        lineSeries("Y", rightY, C_Y, 1, 3, false),
        lineSeries("Z", rightZ, C_Z, 1, 3, false),
        lineSeries("X", dispX, C_X, 2, 2.7, 0.35),
        lineSeries("Y", dispY, C_Y, 2, 2.7, 0.35),
        lineSeries("Z", dispZ, C_Z, 2, 2.5, 0.2),
      ],
      graphic: [
        txt("LEFT ARM GRASPING ERROR - in [mm]", 346, 20, 18.5, { bold: true }),
        txt("RIGHT ARM GRASPING ERROR - in [mm]", 347, 262, 18.5, { bold: true }),
        txt("MULTIROTOR DISPLACEMENT w.r.t. INITIAL POSITION", 354, 546, 18.5, { bold: true }),
        txt("Error [mm]", 33, 117, 18, { rotation: Math.PI / 2, fill: AX }),
        txt("Error [mm]", 33, 360, 18, { rotation: Math.PI / 2, fill: AX }),
        txt("displacement [m]", 22, 773, 18, { rotation: Math.PI / 2, fill: AX }),
        txt("time [s]", 346, 488, 18, { fill: AX }),
        txt("time [s]", 355, 1032, 18, { fill: AX }),
        txt("(a)", 350, 512, 20, { family: SERIF }),
        txt("(b)", 351, 1055, 20, { family: SERIF }),
      ],
    };
    chart.setOption(option);
    return () => chart.dispose();
  }, []);
  return <div ref={ref} style={{ width: 639, height: 1065 }} />;
}
